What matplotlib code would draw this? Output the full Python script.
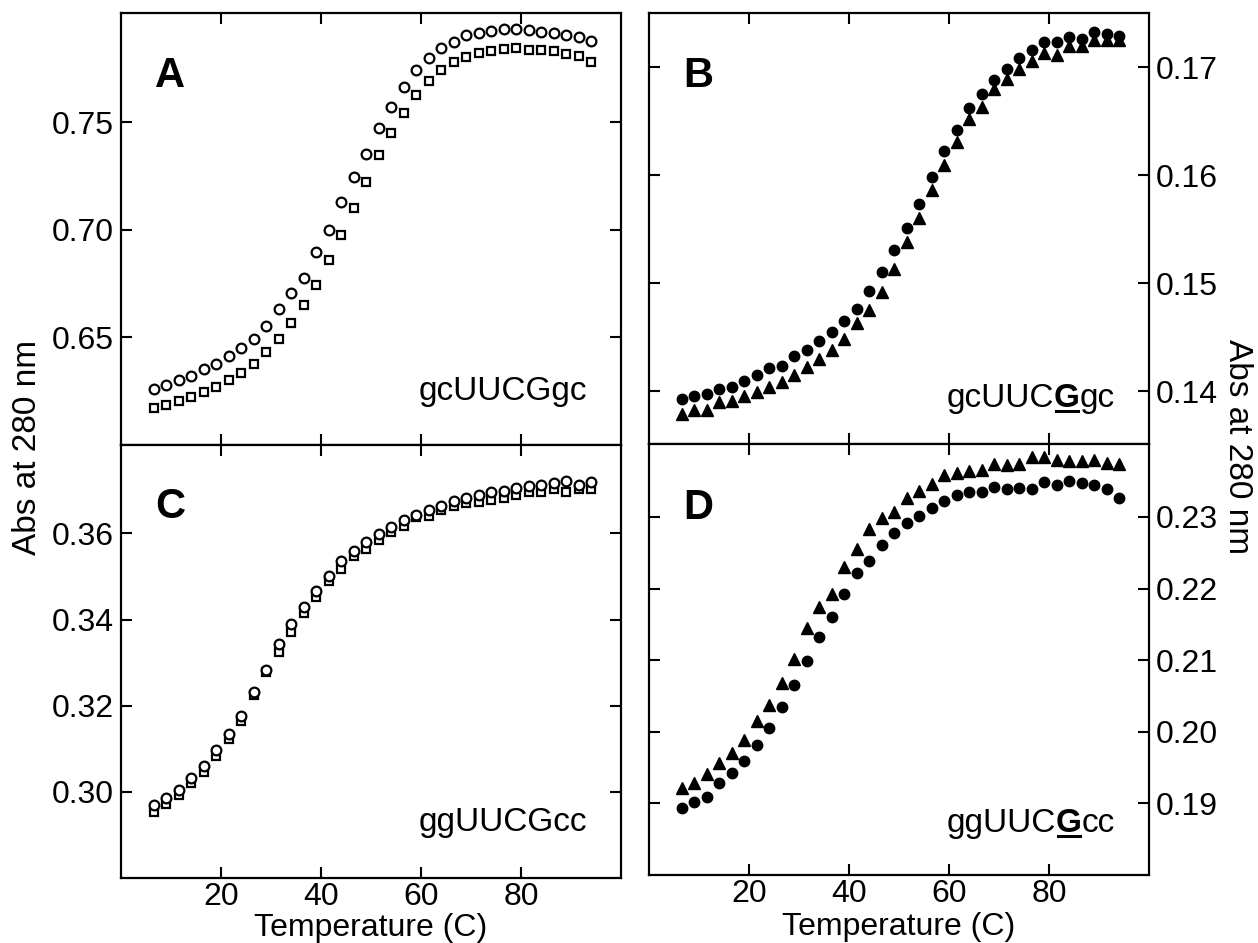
"""
Thermal melting curves (absorbance at 280 nm vs temperature) for the four
hairpin constructs, drawn as a 2x2 panel figure.
"""
import matplotlib.pyplot as plt
from matplotlib.lines import Line2D

plt.rcParams['font.family'] = ['Liberation Sans', 'DejaVu Sans']

# ---------- Data ----------
temp = [6.5, 9.0, 11.5, 14.0, 16.5, 19.0, 21.5, 24.0, 26.5, 29.0, 31.5, 34.0,
        36.5, 39.0, 41.5, 44.0, 46.5, 49.0, 51.5, 54.0, 56.5, 59.0, 61.5, 64.0,
        66.5, 69.0, 71.5, 74.0, 76.5, 79.0, 81.5, 84.0, 86.5, 89.0, 91.5, 94.0]

a_circ = [0.6259, 0.6276, 0.6302, 0.6321, 0.6352, 0.6376, 0.6410, 0.6449, 0.6492,
          0.6553, 0.6631, 0.6704, 0.6774, 0.6894, 0.6998, 0.7126, 0.7245, 0.7353,
          0.7472, 0.7570, 0.7665, 0.7740, 0.7797, 0.7845, 0.7874, 0.7905, 0.7916,
          0.7925, 0.7931, 0.7931, 0.7928, 0.7920, 0.7913, 0.7905, 0.7894, 0.7879]
a_sq = [0.6171, 0.6182, 0.6202, 0.6222, 0.6243, 0.6268, 0.6302, 0.6333, 0.6375,
        0.6430, 0.6491, 0.6565, 0.6650, 0.6743, 0.6859, 0.6974, 0.7101, 0.7219,
        0.7345, 0.7449, 0.7543, 0.7624, 0.7689, 0.7740, 0.7778, 0.7801, 0.7821,
        0.7832, 0.7838, 0.7843, 0.7837, 0.7837, 0.7829, 0.7817, 0.7808, 0.7781]

b_circ = [0.1393, 0.1395, 0.1397, 0.1402, 0.1404, 0.1409, 0.1415, 0.1421, 0.1423,
          0.1432, 0.1438, 0.1446, 0.1455, 0.1465, 0.1476, 0.1493, 0.1510, 0.1531,
          0.1551, 0.1573, 0.1598, 0.1622, 0.1642, 0.1662, 0.1675, 0.1688, 0.1698,
          0.1708, 0.1716, 0.1723, 0.1723, 0.1728, 0.1726, 0.1732, 0.1731, 0.1729]
b_tri = [0.1379, 0.1382, 0.1382, 0.1390, 0.1391, 0.1395, 0.1399, 0.1404, 0.1408,
         0.1415, 0.1422, 0.1430, 0.1438, 0.1448, 0.1463, 0.1475, 0.1492, 0.1513,
         0.1538, 0.1560, 0.1586, 0.1609, 0.1631, 0.1652, 0.1663, 0.1680, 0.1689,
         0.1698, 0.1706, 0.1713, 0.1711, 0.1719, 0.1719, 0.1725, 0.1725, 0.1725]

c_circ = [0.2969, 0.2985, 0.3005, 0.3033, 0.3060, 0.3098, 0.3135, 0.3175, 0.3232,
          0.3283, 0.3342, 0.3390, 0.3429, 0.3467, 0.3502, 0.3535, 0.3560, 0.3579,
          0.3599, 0.3615, 0.3632, 0.3643, 0.3653, 0.3664, 0.3676, 0.3683, 0.3690,
          0.3697, 0.3699, 0.3705, 0.3709, 0.3713, 0.3717, 0.3722, 0.3713, 0.3720]
c_sq = [0.2954, 0.2971, 0.2992, 0.3021, 0.3046, 0.3083, 0.3122, 0.3165, 0.3224,
        0.3278, 0.3324, 0.3371, 0.3415, 0.3453, 0.3489, 0.3517, 0.3548, 0.3564,
        0.3585, 0.3602, 0.3618, 0.3637, 0.3641, 0.3653, 0.3663, 0.3670, 0.3672,
        0.3677, 0.3683, 0.3689, 0.3695, 0.3697, 0.3704, 0.3697, 0.3703, 0.3703]

d_circ = [0.1893, 0.1902, 0.1909, 0.1928, 0.1943, 0.1959, 0.1981, 0.2006, 0.2035,
          0.2066, 0.2099, 0.2133, 0.2161, 0.2193, 0.2222, 0.2238, 0.2261, 0.2278,
          0.2292, 0.2301, 0.2312, 0.2323, 0.2331, 0.2335, 0.2335, 0.2342, 0.2339,
          0.2341, 0.2339, 0.2349, 0.2345, 0.2350, 0.2347, 0.2344, 0.2339, 0.2326]
d_tri = [0.1921, 0.1929, 0.1941, 0.1957, 0.1971, 0.1989, 0.2015, 0.2038, 0.2068,
         0.2101, 0.2145, 0.2175, 0.2193, 0.2230, 0.2256, 0.2283, 0.2299, 0.2307,
         0.2327, 0.2337, 0.2346, 0.2358, 0.2362, 0.2364, 0.2366, 0.2374, 0.2372,
         0.2374, 0.2384, 0.2384, 0.2380, 0.2378, 0.2378, 0.2379, 0.2376, 0.2374]

x_ticks = [20, 40, 60, 80]
a_ticks = [0.65, 0.70, 0.75]
b_ticks = [0.14, 0.15, 0.16, 0.17]
c_ticks = [0.30, 0.32, 0.34, 0.36]
d_ticks = [0.19, 0.20, 0.21, 0.22, 0.23]

# ---------- Figure ----------
fig = plt.figure(figsize=(12.58, 9.43), dpi=100)


def make_panel(rect, ylim, yticks, side, bottom):
    ax = fig.add_axes(rect)
    ax.set_xlim(0, 100)
    ax.set_ylim(*ylim)
    ax.set_xticks(x_ticks)
    ax.set_yticks(yticks)
    ax.set_yticklabels([f"{v:.2f}" for v in yticks])
    ax.tick_params(direction='in', top=True, bottom=True, left=True, right=True,
                   length=8, width=1.5, labelsize=23, pad=5)
    ax.tick_params(axis='x', pad=3)
    ax.tick_params(labelleft=(side == 'left'), labelright=(side == 'right'),
                   labelbottom=bottom)
    for s in ax.spines.values():
        s.set_linewidth(1.6)
    return ax


ax_a = make_panel([0.0962, 0.5281, 0.3975, 0.4581], (0.5998, 0.8007), a_ticks, 'left', False)
ax_b = make_panel([0.5159, 0.5292, 0.3975, 0.4570], (0.1351, 0.1750), b_ticks, 'right', False)
ax_c = make_panel([0.0962, 0.0689, 0.3975, 0.4592], (0.2800, 0.3805), c_ticks, 'left', True)
ax_d = make_panel([0.5159, 0.0721, 0.3975, 0.4571], (0.1800, 0.2402), d_ticks, 'right', True)

open_kw = dict(ls='none', mfc='white', mec='black', mew=1.6)
fill_kw = dict(ls='none', color='black')

ax_a.plot(temp, a_sq, 's', ms=6.2, **open_kw)
ax_a.plot(temp, a_circ, 'o', ms=7, **open_kw)
ax_c.plot(temp, c_sq, 's', ms=6.2, **open_kw)
ax_c.plot(temp, c_circ, 'o', ms=7, **open_kw)

ax_b.plot(temp, b_tri, '^', ms=8, **fill_kw)
ax_b.plot(temp, b_circ, 'o', ms=7.5, **fill_kw)
ax_d.plot(temp, d_tri, '^', ms=8, **fill_kw)
ax_d.plot(temp, d_circ, 'o', ms=7.5, **fill_kw)

# panel letters
for ax, letter, y in [(ax_a, 'A', 0.829), (ax_b, 'B', 0.828),
                      (ax_c, 'C', 0.831), (ax_d, 'D', 0.826)]:
    ax.text(0.098, y, letter, transform=ax.transAxes, ha='center', va='baseline',
            fontsize=30, fontweight='bold')

# sequence names
ax_a.text(0.932, 0.104, 'gcUUCGgc', transform=ax_a.transAxes, ha='right',
          va='baseline', fontsize=24)
ax_c.text(0.932, 0.1085, 'ggUUCGcc', transform=ax_c.transAxes, ha='right',
          va='baseline', fontsize=24)


def seq_label(ax, y, pre, mid, post):
    t3 = ax.text(0.932, y, post, transform=ax.transAxes, ha='right',
                 va='baseline', fontsize=24)
    t2 = ax.annotate(mid, xy=(0, 0), xycoords=t3, ha='right', va='bottom',
                     fontsize=24, fontweight='bold')
    ax.annotate(pre, xy=(0, 0), xycoords=t2, ha='right', va='bottom', fontsize=24)
    return t2, y


underlined = [(ax_b, seq_label(ax_b, 0.086, 'gcUUC', 'G', 'gc')),
              (ax_d, seq_label(ax_d, 0.100, 'ggUUC', 'G', 'cc'))]

# axis labels
fig.text(0.2950, 0.0070, 'Temperature (C)', ha='center', va='baseline', fontsize=23)
fig.text(0.7147, 0.0085, 'Temperature (C)', ha='center', va='baseline', fontsize=23)
fig.text(0.0215, 0.526, 'Abs at 280 nm', rotation=90, ha='center', va='center', fontsize=24)
fig.text(0.984, 0.526, 'Abs at 280 nm', rotation=-90, ha='center', va='center', fontsize=24)

# underline the bold G
fig.canvas.draw()
inv = fig.transFigure.inverted()
for ax, (tg, y) in underlined:
    bb = tg.get_window_extent()
    base = ax.transAxes.transform((0.932, y))[1]
    (x0, yy), (x1, _) = inv.transform([(bb.x0 + 2, base - 4), (bb.x1 - 2, base - 4)])
    fig.add_artist(Line2D([x0, x1], [yy, yy], transform=fig.transFigure,
                          color='black', lw=2.2))

fig.savefig('out.png', dpi=100)
